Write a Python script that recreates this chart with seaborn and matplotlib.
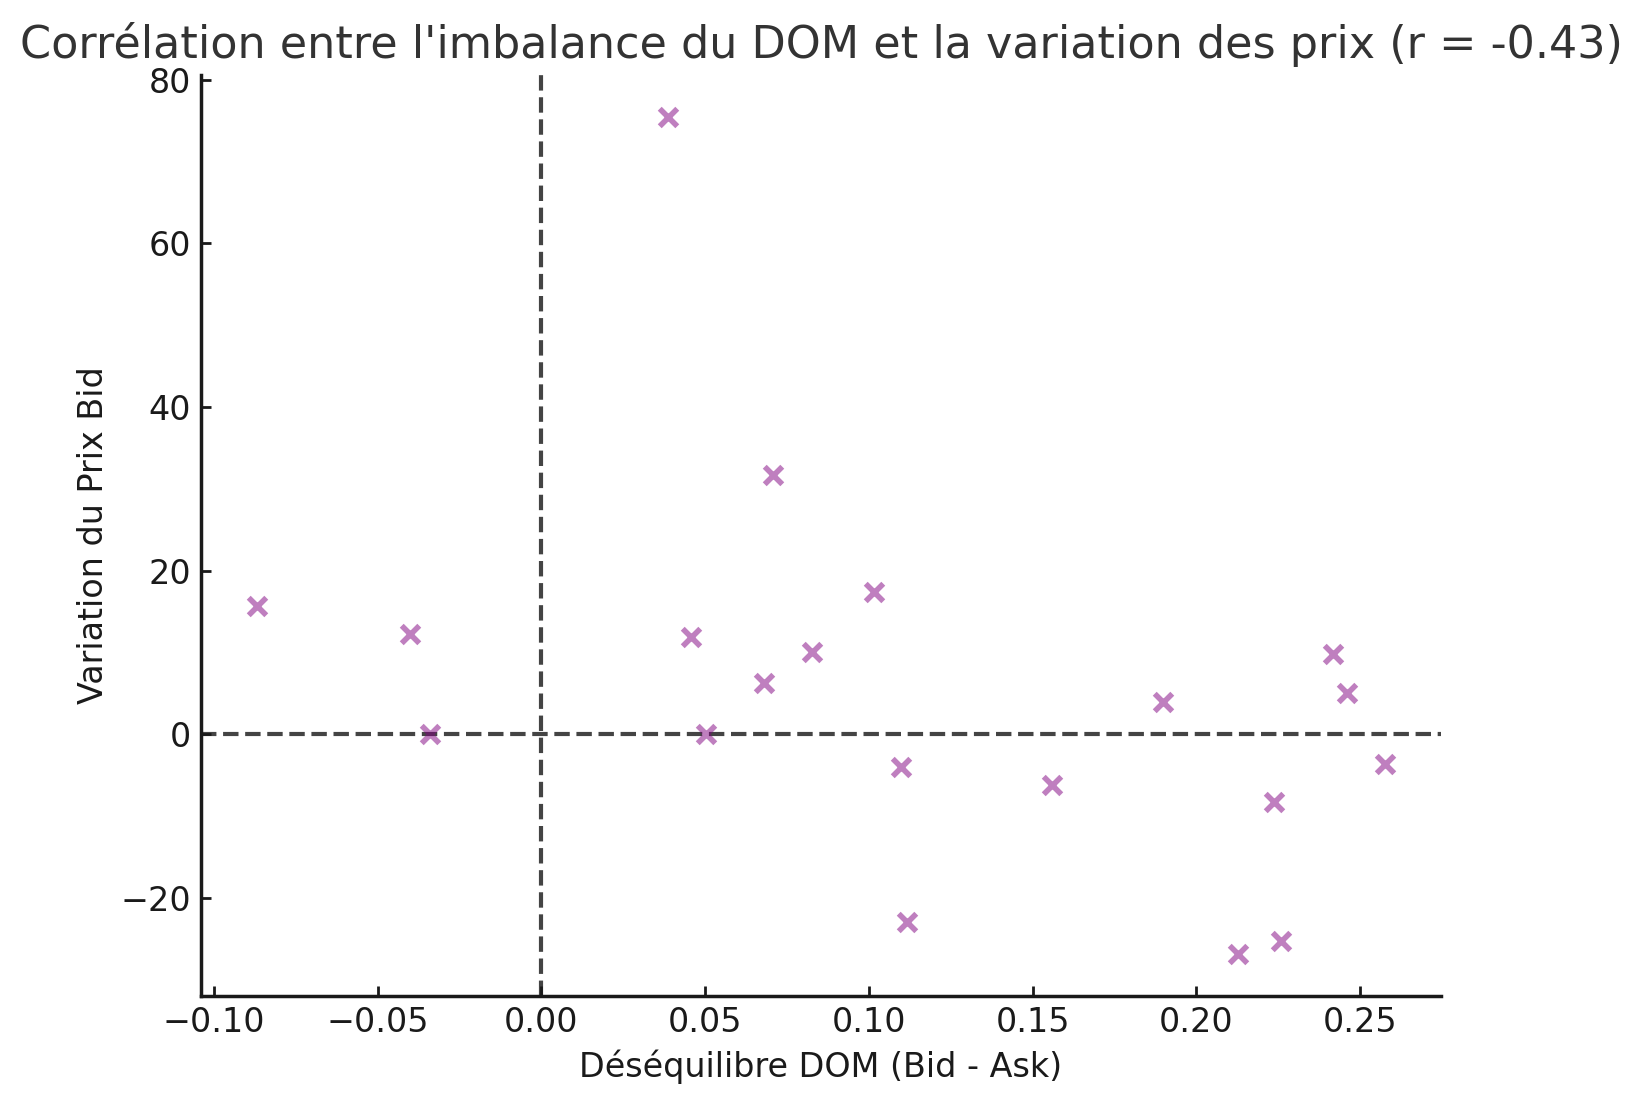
import matplotlib
matplotlib.use("Agg")
import matplotlib.pyplot as plt
import seaborn as sns
import pandas as pd

imbalance = [-0.0867, -0.0402, -0.0341, 0.0386, 0.0458, 0.0504, 0.0679, 0.0708, 0.0827,
             0.1016, 0.1099, 0.1117, 0.1560, 0.1897, 0.2126, 0.2236, 0.2260, 0.2417,
             0.2459, 0.2575]
price_change = [15.7, 12.2, 0.0, 75.5, 11.9, 0.0, 6.3, 31.7, 10.0,
                17.4, -4.0, -23.0, -6.2, 3.9, -26.9, -8.3, -25.3, 9.8,
                5.0, -3.6]

df = pd.DataFrame({"imbalance": imbalance, "price_change": price_change})

sns.set_style("ticks")
plt.rcParams['font.family'] = ['DejaVu Sans']
plt.rcParams['axes.edgecolor'] = '#1a1a1a'
plt.rcParams['xtick.color'] = '#1a1a1a'
plt.rcParams['ytick.color'] = '#1a1a1a'
plt.rcParams['axes.labelcolor'] = '#1a1a1a'

fig = plt.figure(figsize=(8.21, 5.525), dpi=200)
ax = fig.add_axes([0.1224, 0.0986, 0.7552, 0.8338])

sns.scatterplot(data=df, x="imbalance", y="price_change", ax=ax,
                marker="x", color="purple", alpha=0.5, s=40, linewidth=2)
ax.axhline(0, color="#444444", linestyle="--", linewidth=1.5, zorder=0)
ax.axvline(0, color="#444444", linestyle="--", linewidth=1.5, zorder=0)

ax.set_title("Corrélation entre l'imbalance du DOM et la variation des prix (r = -0.43)",
             fontsize=16, color="#333333")
ax.set_xlabel("Déséquilibre DOM (Bid - Ask)", fontsize=12)
ax.set_ylabel("Variation du Prix Bid", fontsize=12)
ax.tick_params(labelsize=12, direction="in", length=3.5, width=1.0)
for sp in ax.spines.values():
    sp.set_linewidth(1.25)
sns.despine(ax=ax)

fig.savefig("out.png", dpi=200)
